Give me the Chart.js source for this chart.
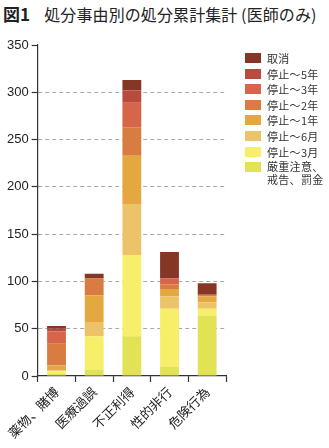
<!DOCTYPE html>
<html>
<head>
<meta charset="utf-8">
<script src="https://cdn.jsdelivr.net/npm/chart.js@4/dist/chart.umd.min.js"></script>
<style>
  html, body { margin:0; padding:0; background:#fff; }
  body { width:329px; height:448px; position:relative; overflow:hidden; font-family:"Noto Sans CJK JP", sans-serif; }
  #title { position:absolute; left:3px; top:4px; font-size:16px; color:#222; white-space:nowrap; line-height:20px; letter-spacing:0.1px; }
  #title b { font-size:17px; margin-right:14px; }
  #wrap { position:absolute; left:0; top:0; width:329px; height:448px; }
  #legend { position:absolute; left:245px; top:51px; font-size:11px; color:#333; letter-spacing:0.3px; }
  .item { display:flex; align-items:flex-start; height:15.6px; line-height:14px; }
  .box { width:16px; height:10px; margin-top:2px; margin-right:6px; flex:none; }
</style>
</head>
<body>
<div id="title"><b>図1</b>処分事由別の処分累計集計 (医師のみ)</div>
<div id="wrap"><canvas id="chart"></canvas></div>
<div id="legend"></div>
<script>
// categories and series (bottom of stack first)
const categories = ['薬物、賭博', '医療過誤', '不正利得', '性的非行', '危険行為'];
const seriesNames = ['厳重注意、戒告、罰金', '停止～3月', '停止～6月', '停止～1年', '停止～2年', '停止～3年', '停止～5年', '取消'];
const legendNames = [['厳重注意、', '戒告、罰金'], ['停止～3月'], ['停止～6月'], ['停止～1年'], ['停止～2年'], ['停止～3年'], ['停止～5年'], ['取消']];
const seriesColors = ['#e2e354', '#f7ee6a', '#edc36a', '#e5a841', '#d87c41', '#d6654a', '#b94b3c', '#853624'];

const kenju    = [2, 7, 42, 10, 64];
const teishi3m = [3, 35, 86, 61, 7];
const teishi6m = [1, 15, 54, 13, 7];
const teishi1y = [5, 28, 51, 8, 6];
const teishi2y = [23, 18, 30, 5, 2];
const teishi3y = [13, 0, 26, 6, 0];
const teishi5y = [3, 0, 13, 0, 0];
const torikeshi = [3, 5, 11, 28, 12];
const seriesValues = [kenju, teishi3m, teishi6m, teishi1y, teishi2y, teishi3y, teishi5y, torikeshi];

const yTicks = [0, 50, 100, 150, 200, 250, 300, 350];

// legend, top item = top of stack
const legend = document.getElementById('legend');
for (let i = seriesNames.length - 1; i >= 0; i--) {
  const lines = legendNames[i];
  legend.innerHTML += `<div class="item" style="height:${15.6 + (lines.length - 1) * 12}px;">
    <span class="box" style="background:${seriesColors[i]}"></span>
    <span style="line-height:${lines.length > 1 ? 13 : 14}px;">${lines.join('<br>')}</span></div>`;
}

new Chart(document.getElementById('chart'), {
  type: 'bar',
  data: {
    labels: categories,
    datasets: seriesNames.map((name, i) => ({
      label: name,
      data: seriesValues[i],
      backgroundColor: seriesColors[i],
      borderWidth: 0,
      barPercentage: 0.5,
      categoryPercentage: 1,
    }))
  },
  options: {
    responsive: true,
    maintainAspectRatio: false,
    animation: false,
    layout: { padding: { left: 4, right: 103, top: 45, bottom: 5 } },
    plugins: { legend: { display: false }, tooltip: { enabled: false } },
    scales: {
      x: {
        stacked: true,
        grid: { drawOnChartArea: false, offset: true, tickLength: 6, tickColor: '#333', tickWidth: 1.2 },
        border: { color: '#333', width: 1.2 },
        ticks: {
          color: '#222', maxRotation: 45, minRotation: 45, padding: 2,
          font: { family: '"Noto Sans CJK JP", sans-serif', size: 13 }
        }
      },
      y: {
        stacked: true,
        min: 0, max: 350,
        afterBuildTicks: axis => { axis.ticks = yTicks.map(v => ({ value: v })); },
        grid: {
          color: c => (c.tick && (c.tick.value === 0 || c.tick.value === 350)) ? 'rgba(0,0,0,0)' : '#aaa',
          tickLength: 6, tickColor: '#333', tickWidth: 1.2, tickBorderDash: []
        },
        border: { color: '#333', width: 1.2, dash: [4, 3] },
        ticks: {
          color: '#222', padding: 3,
          font: { family: '"Liberation Sans", Arial, sans-serif', size: 13 }
        }
      }
    }
  }
});
</script>
</body>
</html>
